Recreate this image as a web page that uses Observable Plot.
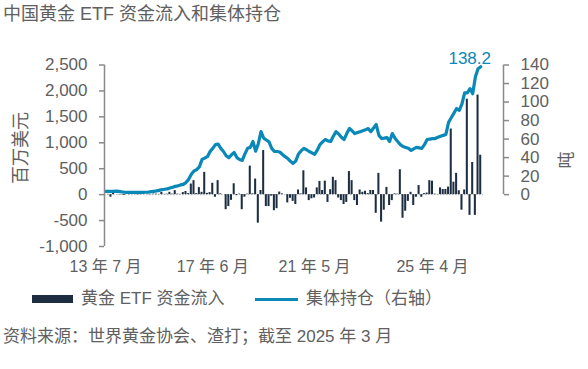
<!DOCTYPE html>
<html><head><meta charset="utf-8">
<script src="https://cdn.jsdelivr.net/npm/d3@7"></script>
<script src="https://cdn.jsdelivr.net/npm/@observablehq/plot@0.6"></script>
<style>
body{margin:0;background:#fff;}
#wrap{position:relative;width:588px;height:369px;overflow:hidden;font-family:"Liberation Sans","Noto Sans CJK SC",sans-serif;color:#606060;}
.abs{position:absolute;white-space:nowrap;}
.rot{position:absolute;white-space:nowrap;transform:translate(-50%,-50%) rotate(-90deg);line-height:1;}
</style></head><body>
<div id="wrap">
<div id="chart" class="abs" style="left:0;top:0"></div>
<div class="abs" style="left:3px;top:2px;font-size:18px;line-height:24px;">中国黄金 ETF 资金流入和集体持仓</div>
<div class="rot" style="left:21px;top:148px;font-size:18px;">百万美元</div>
<div class="rot" style="left:566px;top:160px;font-size:17px;">吨</div>
<div class="abs" style="left:32px;top:295px;width:41px;height:8px;background:#1d2e43;"></div>
<div class="abs" style="left:81px;top:288px;font-size:17px;line-height:22px;">黄金 ETF 资金流入</div>
<div class="abs" style="left:255px;top:298px;width:43px;height:3px;background:#0a88b8;"></div>
<div class="abs" style="left:306px;top:288px;font-size:17px;line-height:22px;">集体持仓（右轴）</div>
<div class="abs" style="left:3px;top:326px;font-size:17px;line-height:22px;">资料来源：世界黄金协会、渣打；截至 2025 年 3 月</div>
</div>
<script>
// Monthly data, 2013-07 .. 2025-03 (141 months)
const inflows = [
  0, 5, -50, 25, 0, 5, -5, -15, 0, 5, 0, 0, -5, 5, 0, 0, 5, 5, 10, 10, 5,
  45, 5, 10, 45, 10, 77, 10, 5, 40, 60, 20, 205, 270,
  20, 135, 45, 430, 25, 40, 220, -50, 270, 15, 0, -290, -230, -110, 210, -20, 10,
  -290, -50, 10, 550, 15, 300, -550, 80, 850, -230, -230, -30, -310, -270, 50, 15, 0,
  -160, -70, -130, -190, 90, 15, 460, 130, -115, -80, -65, 130, 255, 80, 260, -150,
  95, 335, 270, -65, -115, -190, -150, 445, 270, -115, -210, 90, 45, 65, 20, 80, 80,
  -360, 410, -530, -300, 140, -210, -115, 15, 10, 480, -455, -320, -130, 45, -210,
  -50, 175, -50, 20, 30, 270, 260, 10, 5, 130, 100, 100, 145, 1265, 240, 410, 75,
  -300, 90, 1840, -400, 620, -400, 1920, 760
];
const holdings = [
  3.6, 3.6, 3.5, 3.6, 3.8, 3.5, 3.0, 2.7, 2.5, 2.5, 2.4, 2.5, 2.5, 2.6, 2.5, 2.6,
  2.8, 3.2, 3.6, 4.0, 4.6, 5.5, 5.8, 6.2, 7.1, 8.0, 8.9, 9.5, 10.5, 11.1, 13.0,
  16.5, 22, 25.5, 27, 30, 38, 39.5, 41, 46.6, 50, 54, 54.5, 50, 46.6, 42, 40, 43,
  45.5, 40, 38, 37, 44, 50, 51, 57.4, 47, 55, 68, 61, 59, 57, 50, 46.6, 46.6, 46,
  43.4, 41, 39, 36, 33.7, 36.5, 44, 47.5, 50, 48.5, 46.6, 45, 43.4, 48, 54, 57,
  59.5, 58, 57.4, 63, 68, 65.5, 62, 59.5, 66, 71.4, 69, 66, 67, 68, 69, 70, 71.4,
  68, 72, 75.7, 64, 60.6, 61, 61.7, 57.4, 66, 61, 57.4, 54, 52, 51, 50, 47.7, 49.5,
  51, 50.5, 50, 54, 59.5, 60, 60.5, 60.6, 62, 63, 64, 65, 78, 83, 88, 93, 91, 98,
  110, 110, 114.5, 109, 127, 136, 138.2
];
const xTickPos = [0, 40, 78, 122];
const xTickLabels = ["13 年 7 月", "17 年 6 月", "21 年 5 月", "25 年 4 月"];
const leftTicks = [-1000, -500, 0, 500, 1000, 1500, 2000, 2500];
const rightTicks = [0, 20, 40, 60, 80, 100, 120, 140];
const leftMax = 2500, rightMax = 140;
const k = leftMax / rightMax;

const data = inflows.map((v, i) => ({i, v, t: holdings[i]}));
const last = data[data.length - 1];
const axisColor = "#8a8a8a";
const blue = "#0a88b8";

const plot = Plot.plot({
  width: 588, height: 290,
  marginLeft: 104, marginRight: 85, marginTop: 64.5, marginBottom: 44,
  x: {type: "linear", domain: [-0.4, 148.5], axis: null},
  y: {domain: [-1000, 2500], axis: null},
  style: {fontFamily: '"Liberation Sans","Noto Sans CJK SC",sans-serif', fontSize: "17px", color: "#606060", background: "transparent", overflow: "visible"},
  marks: [
    Plot.ruleY([0], {x1: -0.4, x2: 141, stroke: "#b5b5b5", strokeDasharray: "1.5,1.5"}),
    Plot.rectY(data, {x1: d => d.i - 0.38, x2: d => d.i + 0.38, y: "v", fill: "#1d2e43"}),
    Plot.line(data, {x: "i", y: d => d.t * k, stroke: blue, strokeWidth: 3.2, strokeLinejoin: "round"}),
    Plot.text([last], {x: "i", y: d => d.t * k, text: d => d.t.toFixed(1), dx: -11, dy: -3, lineAnchor: "bottom", fill: blue, fontSize: 17}),
    Plot.ruleX([-0.4], {y1: -1000, y2: 2500, stroke: axisColor, strokeWidth: 1.5}),
    Plot.ruleX([148.5], {y1: 0, y2: rightMax * k, stroke: axisColor, strokeWidth: 1.5}),
    Plot.axisY(leftTicks, {anchor: "left", label: null, tickSize: 5, tickPadding: 12, stroke: axisColor, strokeWidth: 1.5, fill: "#606060", fontSize: 17, tickFormat: d => d.toLocaleString("en-US")}),
    Plot.axisY(rightTicks.map(t => t * k), {anchor: "right", label: null, tickSize: 5, tickPadding: 12, stroke: axisColor, strokeWidth: 1.5, fill: "#606060", fontSize: 17, tickFormat: d => String(Math.round(d / k))}),
    Plot.axisX(xTickPos, {anchor: "bottom", label: null, tickSize: 0, tickPadding: 14, fill: "#606060", fontSize: 16, tickFormat: (d, j) => xTickLabels[j]})
  ]
});
document.getElementById("chart").appendChild(plot);
</script>
</body></html>
